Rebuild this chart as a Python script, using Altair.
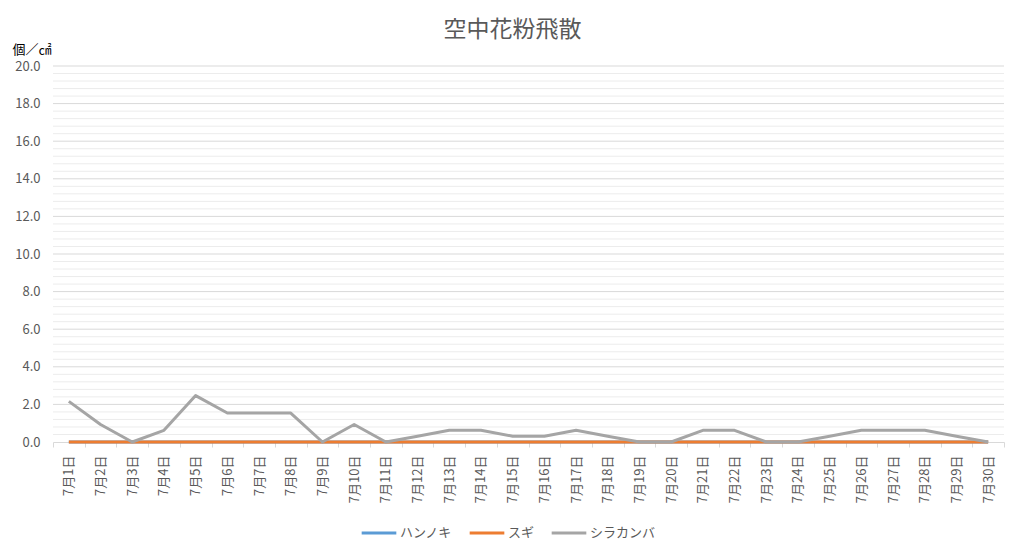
import altair as alt
import pandas as pd

days = [f"7月{d}日" for d in range(1, 31)]
series_names = ["ハンノキ", "スギ", "シラカンバ"]
hannoki = [0.0] * 30
sugi = [0.0] * 30
shirakanba = [2.16, 0.93, 0.0, 0.62, 2.47, 1.54, 1.54, 1.54, 0.0, 0.93,
              0.0, 0.31, 0.62, 0.62, 0.31, 0.31, 0.62, 0.31, 0.0, 0.0,
              0.62, 0.62, 0.0, 0.0, 0.31, 0.62, 0.62, 0.62, 0.31, 0.0]
colors = ["#5b9bd5", "#ed7d31", "#a5a5a5"]
major_ticks = [0, 2, 4, 6, 8, 10, 12, 14, 16, 18, 20]
minor_ticks = [0.4, 0.8, 1.2, 1.6, 2.4, 2.8, 3.2, 3.6, 4.4, 4.8, 5.2, 5.6,
               6.4, 6.8, 7.2, 7.6, 8.4, 8.8, 9.2, 9.6, 10.4, 10.8, 11.2, 11.6,
               12.4, 12.8, 13.2, 13.6, 14.4, 14.8, 15.2, 15.6, 16.4, 16.8,
               17.2, 17.6, 18.4, 18.8, 19.2, 19.6]

rows = []
for name, vals in zip(series_names, [hannoki, sugi, shirakanba]):
    for d, v in zip(days, vals):
        rows.append({"date": d, "series": name, "value": v})
df = pd.DataFrame(rows)
minor_df = pd.DataFrame({"value": minor_ticks})
major_df = pd.DataFrame({"value": major_ticks[1:]})

FONT = "Noto Sans CJK JP"
GRAY = "#595959"

x_enc = alt.X(
    "date:O",
    sort=days,
    scale=alt.Scale(type="band", paddingInner=0, paddingOuter=0),
    axis=alt.Axis(
        title=None, labelAngle=270, labelFontSize=13, labelColor=GRAY,
        labelFont=FONT, domainColor="#d9d9d9", tickColor="#d9d9d9",
        tickSize=5, tickBand="extent", labelPadding=8, grid=False,
        labelOverlap=False,
    ),
    bandPosition=0.5,
)
y_scale = alt.Scale(domain=[0, 20], nice=False)
y_axis = alt.Axis(
    values=major_ticks, format=".1f", title="個／㎠",
    titleAngle=0, titleX=-41, titleY=-10, titleAlign="left",
    titleBaseline="bottom",
    titleFont=FONT, titleFontSize=13, titleFontWeight="normal",
    titleColor="#000000",
    labelFont=FONT, labelFontSize=13, labelColor=GRAY,
    labelPadding=13, domain=False, ticks=False, grid=False,
    labelOverlap=False,
)


def y_enc():
    return alt.Y("value:Q", scale=y_scale, axis=y_axis)


minor = alt.Chart(minor_df).mark_rule(color="#ececec", strokeWidth=1).encode(y=y_enc())
major = alt.Chart(major_df).mark_rule(color="#d9d9d9", strokeWidth=1).encode(y=y_enc())

color_scale = alt.Scale(domain=series_names, range=colors)

layers = [minor, major]
for name in series_names:
    layers.append(
        alt.Chart(df).transform_filter(alt.datum.series == name)
        .mark_line(strokeWidth=3, strokeCap="butt", strokeJoin="round")
        .encode(
            x=x_enc,
            y=y_enc(),
            color=alt.Color(
                "series:N", scale=color_scale, sort=series_names,
                legend=alt.Legend(
                    title=None, orient="none", direction="horizontal",
                    legendX=307, legendY=448, symbolType="stroke",
                    symbolSize=1200, symbolStrokeWidth=3,
                    labelFont=FONT, labelFontSize=13, labelColor=GRAY,
                    columnPadding=10, labelOffset=2,
                ),
            ),
        )
    )

chart = alt.layer(*layers).properties(
    width=951, height=376,
    autosize=alt.AutoSizeParams(type="none"),
    padding={"left": 45, "top": 58, "right": 12, "bottom": 107},
    background="white",
    title=alt.TitleParams(
        "空中花粉飛散", font=FONT, fontSize=23, fontWeight="normal",
        color=GRAY, anchor="middle", offset=1, dx=-16,
    ),
).configure_view(stroke=None)

chart.save("out.html", embed_options={"renderer": "svg", "actions": False})
